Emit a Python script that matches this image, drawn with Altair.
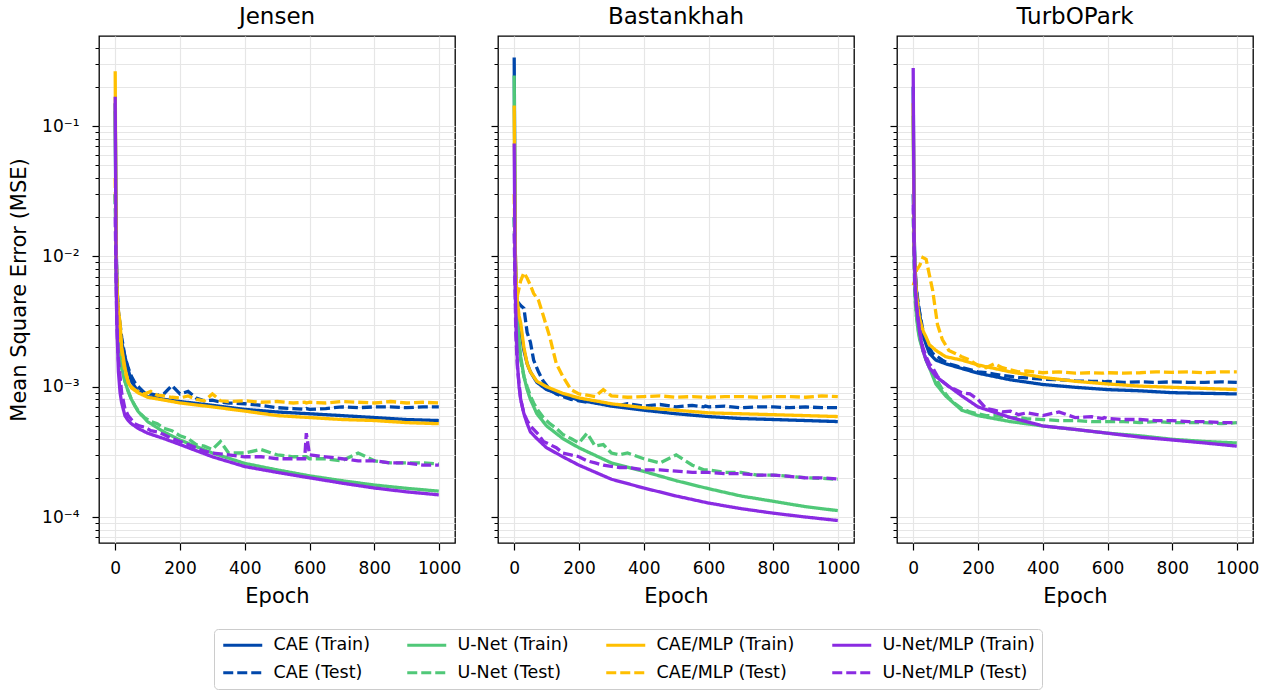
import altair as alt
import pandas as pd

PANELS = ["Jensen", "Bastankhah", "TurbOPark"]

# Series in legend order (row-major, four columns)
LEGEND_ORDER = [
    "CAE (Train)", "U-Net (Train)", "CAE/MLP (Train)", "U-Net/MLP (Train)",
    "CAE (Test)", "U-Net (Test)", "CAE/MLP (Test)", "U-Net/MLP (Test)",
]
LEGEND_COLORS = [
    "#0047AB", "#50C878", "#FFBF00", "#8A2BE2",
    "#0047AB", "#50C878", "#FFBF00", "#8A2BE2",
]
SOLID = [1, 0]
DASHED = [10, 4]
LEGEND_DASHES = [SOLID] * 4 + [DASHED] * 4

TRAIN_EPOCHS = [0, 3, 6, 10, 15, 20, 30, 40, 50, 70, 100, 150, 200, 300, 400,
                500, 600, 700, 800, 900, 999]
TEST_EPOCHS = [0, 5, 10, 20, 30, 40, 50, 60, 75, 90, 110, 130, 150, 175, 200,
               225, 250, 275, 300, 325, 350, 400, 450, 500, 550, 585, 590, 600,
               650, 700, 750, 800, 850, 900, 950, 999]

# ---- Jensen ----
JENSEN_CAE_TRAIN = [0.15, 0.012, 0.0055, 0.0035, 0.0027, 0.0022, 0.0017, 0.00135,
                    0.0011, 0.00092, 0.00084, 0.0008, 0.00077, 0.00072, 0.00067,
                    0.00064, 0.00062, 0.0006, 0.00058, 0.00056, 0.00055]
JENSEN_UNET_TRAIN = [0.13, 0.008, 0.0035, 0.0022, 0.0017, 0.0014, 0.0011, 0.00092,
                     0.0008, 0.00065, 0.00054, 0.00045, 0.00039, 0.00031, 0.000258,
                     0.00023, 0.000207, 0.00019, 0.000176, 0.000166, 0.000158]
JENSEN_CAEMLP_TRAIN = [0.263, 0.01, 0.0052, 0.0038, 0.0031, 0.002, 0.0014, 0.00108,
                       0.00098, 0.0009, 0.00083, 0.00079, 0.00075, 0.0007, 0.00065,
                       0.0006, 0.00058, 0.00056, 0.00055, 0.00053, 0.00052]
JENSEN_UNETMLP_TRAIN = [0.168, 0.006, 0.0025, 0.0013, 0.0009, 0.00075, 0.0006,
                        0.00055, 0.00052, 0.00048, 0.00044, 0.0004, 0.00036, 0.00029,
                        0.000244, 0.00022, 0.0002, 0.000182, 0.000167, 0.000156,
                        0.000148]
JENSEN_CAE_TEST = [0.03, 0.006, 0.0038, 0.0024, 0.0017, 0.0014, 0.0012, 0.00108,
                   0.00098, 0.0009, 0.00088, 0.00086, 0.00088, 0.00102, 0.00088,
                   0.00092, 0.00082, 0.00078, 0.00079, 0.00076, 0.00075, 0.00074,
                   0.00072, 0.00069, 0.00068, 0.00067, 0.00068, 0.00067, 0.00068,
                   0.0007, 0.00069, 0.0007, 0.0007, 0.00069, 0.0007, 0.0007]
JENSEN_UNET_TEST = [0.03, 0.004, 0.0023, 0.0014, 0.0011, 0.00093, 0.0008, 0.00072,
                    0.00063, 0.00058, 0.00054, 0.00052, 0.00048, 0.00046, 0.00042,
                    0.0004, 0.00036, 0.00035, 0.00033, 0.00038, 0.00031, 0.00031,
                    0.00033, 0.0003, 0.00029, 0.00029, 0.00029, 0.00028, 0.00028,
                    0.00027, 0.00031, 0.00027, 0.00026, 0.00026, 0.00026, 0.000255]
JENSEN_CAEMLP_TEST = [0.04, 0.005, 0.0035, 0.0019, 0.0013, 0.0011, 0.001, 0.00095,
                      0.0009, 0.00088, 0.00092, 0.00086, 0.00085, 0.00083, 0.00082,
                      0.00085, 0.0008, 0.00078, 0.00088, 0.00078, 0.00077, 0.00078,
                      0.00076, 0.00077, 0.00075, 0.00076, 0.00075, 0.00076, 0.00075,
                      0.00077, 0.00076, 0.00075, 0.00077, 0.00075, 0.00076, 0.00075]
JENSEN_UNETMLP_TEST = [0.02, 0.003, 0.0016, 0.0009, 0.00068, 0.0006, 0.00056,
                       0.00052, 0.0005, 0.00049, 0.00046, 0.00045, 0.00043, 0.0004,
                       0.00038, 0.00036, 0.00034, 0.00032, 0.00031, 0.000305,
                       0.0003, 0.00029, 0.00029, 0.00028, 0.00028, 0.00028,
                       0.00044, 0.0003, 0.00029, 0.00028, 0.00027, 0.00027,
                       0.00026, 0.00026, 0.00025, 0.00025]

# ---- Bastankhah ----
BASTANKHAH_CAE_TRAIN = [0.336, 0.012, 0.006, 0.004, 0.003, 0.0027, 0.0019, 0.0015,
                        0.0013, 0.00108, 0.00095, 0.00086, 0.00079, 0.00071, 0.00066,
                        0.00062, 0.00059, 0.00057, 0.00056, 0.00055, 0.00054]
BASTANKHAH_UNET_TRAIN = [0.244, 0.01, 0.005, 0.0033, 0.0023, 0.0017, 0.0012,
                         0.00095, 0.0008, 0.00062, 0.0005, 0.0004, 0.00034, 0.00026,
                         0.000224, 0.00019, 0.000165, 0.000145, 0.000132, 0.00012,
                         0.000112]
BASTANKHAH_CAEMLP_TRAIN = [0.144, 0.012, 0.0065, 0.0045, 0.0035, 0.0031, 0.002,
                           0.0015, 0.0013, 0.0011, 0.001, 0.00089, 0.00082, 0.00074,
                           0.00069, 0.00066, 0.00063, 0.00062, 0.00061, 0.0006,
                           0.00059]
BASTANKHAH_UNETMLP_TRAIN = [0.0736, 0.006, 0.0028, 0.0015, 0.001, 0.0008, 0.00062,
                            0.00052, 0.00045, 0.0004, 0.00034, 0.00029, 0.00025,
                            0.000195, 0.000167, 0.000145, 0.000128, 0.000116,
                            0.000107, 0.0001, 0.000094]
BASTANKHAH_CAE_TEST = [0.02, 0.006, 0.0045, 0.0042, 0.004, 0.0026, 0.0022, 0.0016,
                       0.0013, 0.0011, 0.00095, 0.00088, 0.00084, 0.0008, 0.00078,
                       0.00076, 0.00077, 0.00074, 0.00073, 0.00072, 0.00074, 0.00071,
                       0.00073, 0.0007, 0.00072, 0.0007, 0.00071, 0.0007, 0.00071,
                       0.00069, 0.0007, 0.0007, 0.00069, 0.0007, 0.00069, 0.00069]
BASTANKHAH_UNET_TEST = [0.02, 0.004, 0.0025, 0.0016, 0.0012, 0.001, 0.00085,
                        0.00075, 0.00065, 0.00058, 0.00052, 0.00048, 0.00043, 0.0004,
                        0.00037, 0.00044, 0.00035, 0.00036, 0.00031, 0.0003, 0.00031,
                        0.00028, 0.00026, 0.0003, 0.00025, 0.00023, 0.00023, 0.00023,
                        0.00022, 0.00022, 0.00021, 0.00021, 0.000205, 0.0002,
                        0.000198, 0.000195]
BASTANKHAH_CAEMLP_TEST = [0.03, 0.0045, 0.005, 0.0065, 0.0075, 0.0068, 0.006,
                          0.0052, 0.0046, 0.0035, 0.0024, 0.0015, 0.0012, 0.00095,
                          0.00088, 0.00086, 0.00084, 0.00095, 0.00085, 0.00084,
                          0.00083, 0.00084, 0.00085, 0.00083, 0.00084, 0.00083,
                          0.00084, 0.00083, 0.00084, 0.00084, 0.00083, 0.00084,
                          0.00084, 0.00083, 0.00085, 0.00084]
BASTANKHAH_UNETMLP_TEST = [0.015, 0.0025, 0.0014, 0.0008, 0.00062, 0.00055, 0.0005,
                           0.00047, 0.00043, 0.00038, 0.00036, 0.00034, 0.00031,
                           0.0003, 0.00029, 0.00027, 0.00026, 0.00025, 0.000245,
                           0.00024, 0.00024, 0.00023, 0.00023, 0.000225, 0.00022,
                           0.00022, 0.00022, 0.00022, 0.000215, 0.000215, 0.00021,
                           0.00021, 0.000205, 0.0002, 0.0002, 0.000196]

# ---- TurbOPark ----
TURBOPARK_CAE_TRAIN = [0.2, 0.015, 0.008, 0.0055, 0.0042, 0.0036, 0.0025, 0.0021,
                       0.0018, 0.0016, 0.0015, 0.00138, 0.00127, 0.00113, 0.00104,
                       0.00099, 0.00095, 0.00093, 0.0009, 0.00089, 0.00088]
TURBOPARK_UNET_TRAIN = [0.12, 0.01, 0.005, 0.0035, 0.0027, 0.0023, 0.0019, 0.0016,
                        0.0014, 0.00105, 0.00085, 0.00066, 0.0006, 0.00054, 0.0005,
                        0.00047, 0.00044, 0.00042, 0.000395, 0.00038, 0.00037]
TURBOPARK_CAEMLP_TRAIN = [0.15, 0.012, 0.0075, 0.0052, 0.004, 0.0033, 0.0027,
                          0.0024, 0.0021, 0.0019, 0.0017, 0.0016, 0.00147, 0.0013,
                          0.00118, 0.0011, 0.00105, 0.00101, 0.00099, 0.00097,
                          0.00095]
TURBOPARK_UNETMLP_TRAIN = [0.279, 0.012, 0.006, 0.0042, 0.0032, 0.0026, 0.0019,
                           0.0016, 0.0014, 0.0012, 0.00105, 0.00085, 0.0007,
                           0.00058, 0.0005, 0.00047, 0.00044, 0.00041, 0.00039,
                           0.00037, 0.00035]
TURBOPARK_CAE_TEST = [0.03, 0.008, 0.0055, 0.0037, 0.0027, 0.0022, 0.002, 0.0018,
                      0.0017, 0.0016, 0.0015, 0.00145, 0.0014, 0.00135, 0.0013,
                      0.00128, 0.00125, 0.00122, 0.0012, 0.00118, 0.00117, 0.00114,
                      0.00113, 0.00111, 0.0011, 0.0011, 0.00109, 0.0011, 0.00108,
                      0.00109, 0.00108, 0.00109, 0.00108, 0.00108, 0.00109, 0.00108]
TURBOPARK_UNET_TEST = [0.02, 0.005, 0.0035, 0.0024, 0.0019, 0.0016, 0.0014, 0.0013,
                       0.0011, 0.00095, 0.00082, 0.00074, 0.00068, 0.00064, 0.00062,
                       0.0006, 0.0006, 0.00059, 0.00058, 0.00058, 0.00057, 0.00056,
                       0.00055, 0.00055, 0.00054, 0.00054, 0.00054, 0.00054, 0.00054,
                       0.00053, 0.00054, 0.00053, 0.00053, 0.00053, 0.00052, 0.00053]
TURBOPARK_CAEMLP_TEST = [0.006, 0.0065, 0.0078, 0.0085, 0.0098, 0.0095, 0.0072,
                         0.0055, 0.003, 0.0023, 0.0019, 0.0018, 0.0017, 0.0016,
                         0.00145, 0.0014, 0.0015, 0.0014, 0.00135, 0.0013, 0.00132,
                         0.00128, 0.0013, 0.00127, 0.00128, 0.00127, 0.00128,
                         0.00128, 0.00127, 0.00128, 0.0013, 0.00129, 0.0013, 0.00128,
                         0.0013, 0.0013]
TURBOPARK_UNETMLP_TEST = [0.025, 0.006, 0.0042, 0.0027, 0.002, 0.0017, 0.0015,
                          0.0014, 0.0012, 0.0011, 0.001, 0.00095, 0.0009, 0.00088,
                          0.0008, 0.00068, 0.00066, 0.00064, 0.00065, 0.00061,
                          0.00063, 0.0006, 0.00064, 0.00058, 0.00059, 0.00057,
                          0.00058, 0.00057, 0.00056, 0.00056, 0.00055, 0.00055,
                          0.00054, 0.00054, 0.00053, 0.00053]

# Drawing order inside each panel: each model's train curve, then its test curve
CURVES = {
    "Jensen": [
        ("CAE (Train)", TRAIN_EPOCHS, JENSEN_CAE_TRAIN),
        ("CAE (Test)", TEST_EPOCHS, JENSEN_CAE_TEST),
        ("U-Net (Train)", TRAIN_EPOCHS, JENSEN_UNET_TRAIN),
        ("U-Net (Test)", TEST_EPOCHS, JENSEN_UNET_TEST),
        ("CAE/MLP (Train)", TRAIN_EPOCHS, JENSEN_CAEMLP_TRAIN),
        ("CAE/MLP (Test)", TEST_EPOCHS, JENSEN_CAEMLP_TEST),
        ("U-Net/MLP (Train)", TRAIN_EPOCHS, JENSEN_UNETMLP_TRAIN),
        ("U-Net/MLP (Test)", TEST_EPOCHS, JENSEN_UNETMLP_TEST),
    ],
    "Bastankhah": [
        ("CAE (Train)", TRAIN_EPOCHS, BASTANKHAH_CAE_TRAIN),
        ("CAE (Test)", TEST_EPOCHS, BASTANKHAH_CAE_TEST),
        ("U-Net (Train)", TRAIN_EPOCHS, BASTANKHAH_UNET_TRAIN),
        ("U-Net (Test)", TEST_EPOCHS, BASTANKHAH_UNET_TEST),
        ("CAE/MLP (Train)", TRAIN_EPOCHS, BASTANKHAH_CAEMLP_TRAIN),
        ("CAE/MLP (Test)", TEST_EPOCHS, BASTANKHAH_CAEMLP_TEST),
        ("U-Net/MLP (Train)", TRAIN_EPOCHS, BASTANKHAH_UNETMLP_TRAIN),
        ("U-Net/MLP (Test)", TEST_EPOCHS, BASTANKHAH_UNETMLP_TEST),
    ],
    "TurbOPark": [
        ("CAE (Train)", TRAIN_EPOCHS, TURBOPARK_CAE_TRAIN),
        ("CAE (Test)", TEST_EPOCHS, TURBOPARK_CAE_TEST),
        ("U-Net (Train)", TRAIN_EPOCHS, TURBOPARK_UNET_TRAIN),
        ("U-Net (Test)", TEST_EPOCHS, TURBOPARK_UNET_TEST),
        ("CAE/MLP (Train)", TRAIN_EPOCHS, TURBOPARK_CAEMLP_TRAIN),
        ("CAE/MLP (Test)", TEST_EPOCHS, TURBOPARK_CAEMLP_TEST),
        ("U-Net/MLP (Train)", TRAIN_EPOCHS, TURBOPARK_UNETMLP_TRAIN),
        ("U-Net/MLP (Test)", TEST_EPOCHS, TURBOPARK_UNETMLP_TEST),
    ],
}

rows = []
for panel_name, curves in CURVES.items():
    for label, epochs, values in curves:
        for e, v in zip(epochs, values):
            rows.append({"panel": panel_name, "series": label, "epoch": e, "mse": v})
df = pd.DataFrame(rows)

FONT = "DejaVu Sans"
Y_MIN, Y_MAX = 6.32e-5, 0.491
MAJOR_Y = [1e-4, 1e-3, 1e-2, 1e-1]
MINOR_Y = [round(m * 10.0 ** k, 12) for k in range(-5, 0) for m in range(2, 10)
           if Y_MIN <= m * 10.0 ** k <= Y_MAX]
X_TICKS = [0, 200, 400, 600, 800, 1000]
GRID = "#e6e6e6"

x_scale = alt.Scale(domain=[-50, 1049], nice=False, zero=False)
y_scale = alt.Scale(type="log", domain=[Y_MIN, Y_MAX], nice=False)

exp_label = ("'10' + (datum.value < 0.0005 ? '\u207b\u2074' : datum.value < 0.005 ? "
             "'\u207b\u00b3' : datum.value < 0.05 ? '\u207b\u00b2' : '\u207b\u00b9')")

# Wide flat handle: a short path scaled up so the entry height stays small
legend = alt.Legend(title=None, orient="none", legendX=115, legendY=593,
                    columns=4, direction="horizontal",
                    symbolType="M-3,0H3", symbolSize=169, symbolOffset=13,
                    labelOffset=22)


def panel(name, first):
    base = alt.Chart(df).transform_filter(alt.datum.panel == name)
    minor = base.mark_point(opacity=0).encode(
        x=alt.X("epoch:Q", scale=x_scale, axis=None),
        y=alt.Y("mse:Q", scale=y_scale, axis=alt.Axis(
            orient="left", values=MINOR_Y, labels=False, title=None,
            tickSize=4, tickWidth=1, tickColor="black", domain=False,
            grid=True, gridColor=GRID, gridWidth=1.2)),
    )
    lines = base.mark_line(strokeWidth=3.3).encode(
        x=alt.X("epoch:Q", scale=x_scale, axis=alt.Axis(
            values=X_TICKS, format="d", title="Epoch", tickSize=7, tickWidth=1.2,
            tickColor="black", domain=False, grid=True, gridColor=GRID,
            gridWidth=1.2, labelPadding=10, titlePadding=9)),
        y=alt.Y("mse:Q", scale=y_scale, axis=alt.Axis(
            orient="left", values=MAJOR_Y, labelExpr=exp_label, labels=first,
            title="Mean Square Error (MSE)" if first else None,
            tickSize=7, tickWidth=1.2, tickColor="black", domain=False,
            grid=True, gridColor=GRID, gridWidth=1.2, labelPadding=13,
            titlePadding=12)),
        color=alt.Color("series:N", scale=alt.Scale(domain=LEGEND_ORDER,
                                                    range=LEGEND_COLORS),
                        legend=legend),
        strokeDash=alt.StrokeDash("series:N", scale=alt.Scale(domain=LEGEND_ORDER,
                                                              range=LEGEND_DASHES),
                                  legend=legend),
    )
    return alt.layer(minor, lines).resolve_axis(x="independent", y="independent").properties(
        width=356, height=507,
        title=alt.TitleParams(name, fontSize=23, font=FONT, fontWeight="normal",
                              anchor="middle", offset=7, color="black"),
    )


chart = alt.hconcat(
    panel("Jensen", True), panel("Bastankhah", False), panel("TurbOPark", False),
    spacing=27,
).properties(
    padding={"left": 7, "right": 5, "top": 5, "bottom": 1},
).configure_view(
    stroke="black", strokeWidth=1.3,
).configure_axis(
    labelFont=FONT, labelFontSize=17, labelColor="black",
    titleFont=FONT, titleFontSize=21, titleFontWeight="normal", titleColor="black",
).configure_legend(
    labelFont=FONT, labelFontSize=17.5, labelColor="black", symbolStrokeWidth=3,
    columnPadding=31, rowPadding=9, padding=7,
    strokeColor="#cccccc", cornerRadius=4, fillColor="white",
).configure_concat(spacing=27)

chart.save("out.html", embed_options={"renderer": "svg", "actions": False})
